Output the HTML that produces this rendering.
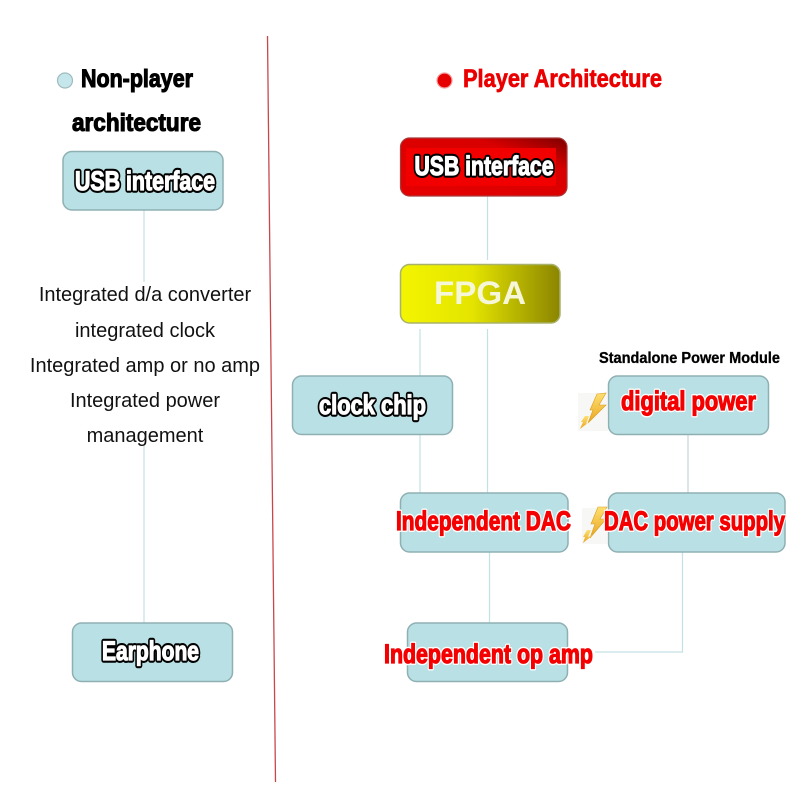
<!DOCTYPE html>
<html>
<head>
<meta charset="utf-8">
<style>
html,body{margin:0;padding:0;background:#fff;width:800px;height:800px;overflow:hidden}
svg{display:block}
text{font-family:"Liberation Sans",sans-serif}
.b{fill:#b9e0e4;stroke:#8fb0b3;stroke-width:1.5}
.c{fill:none;stroke:#c4e1e4;stroke-width:1.2}
.h{font-weight:700;font-size:25px;fill:#000;stroke:#000;stroke-width:1.1px}
.wu{font-weight:700;font-size:27px;fill:#000;stroke:#000;stroke-width:5.4px;stroke-linejoin:round}
.wt{font-weight:700;font-size:27px;fill:#fff;stroke:#fff;stroke-width:1.2px}
.ru{font-weight:700;font-size:27px;fill:#fff;stroke:#fff;stroke-width:4px;stroke-linejoin:round}
.rt{font-weight:700;font-size:27px;fill:#f40000;stroke:#f40000;stroke-width:1.2px}
.t{font-size:20px;fill:#111;text-anchor:middle}
</style>
</head>
<body>
<svg width="800" height="800" viewBox="0 0 800 800" xmlns="http://www.w3.org/2000/svg">
<defs>
<linearGradient id="fp" x1="0" x2="1" y1="0" y2="0">
<stop offset="0" stop-color="#f3f500"/><stop offset=".45" stop-color="#e4e400"/><stop offset="1" stop-color="#8b8500"/>
</linearGradient>
<linearGradient id="rd" x1="0" x2="1" y1="1" y2="0">
<stop offset="0" stop-color="#e60000"/><stop offset=".72" stop-color="#d80000"/><stop offset="1" stop-color="#7d0000"/>
</linearGradient>
<linearGradient id="bolt" x1="0" x2="0" y1="0" y2="1">
<stop offset="0" stop-color="#ffe070"/><stop offset="1" stop-color="#eaa520"/>
</linearGradient>
</defs>

<!-- divider -->
<line x1="267.500" y1="36" x2="275.500" y2="782" stroke="#c8474c" stroke-width="1.300"/>

<!-- connectors -->
<path class="c" d="M144 210V282M144 446V623"/>
<path class="c" d="M487.500 196V260"/>
<path class="c" d="M420 329V376M420 434V493"/>
<path class="c" d="M487.500 329V493"/>
<path class="c" d="M688 434V493" style="stroke:#c9d6d8"/>
<path class="c" d="M489.500 552V623"/>
<path class="c" d="M682.500 552V652H595"/>

<!-- legend dots -->
<circle cx="65" cy="80.500" r="7.500" fill="#c5e6ea" stroke="#9fbcc0" stroke-width="1.200"/>
<circle cx="444.500" cy="80.500" r="7.500" fill="#e60000" stroke="#f2a0a0" stroke-width="1.200"/>

<!-- headings -->
<text class="h" x="81" y="87" textLength="112" lengthAdjust="spacingAndGlyphs">Non-player</text>
<text class="h" x="72" y="131" textLength="129" lengthAdjust="spacingAndGlyphs">architecture</text>
<text x="463" y="87" font-weight="700" font-size="25" fill="#ea0000" stroke="#ea0000" stroke-width=".7" textLength="199" lengthAdjust="spacingAndGlyphs">Player Architecture</text>
<text x="599" y="363" font-weight="700" font-size="15.500" fill="#000" stroke="#000" stroke-width=".3" textLength="181" lengthAdjust="spacingAndGlyphs">Standalone Power Module</text>

<!-- boxes -->
<rect class="b" x="63" y="151.500" width="160" height="58.500" rx="9"/>
<rect x="400.500" y="138" width="166.500" height="58" rx="9" fill="url(#rd)" stroke="#a83a3a" stroke-width="1.200"/>
<rect x="406" y="148" width="150" height="38" fill="#f20000"/>
<rect x="400.500" y="264.500" width="159.500" height="58.500" rx="9" fill="url(#fp)" stroke="#a9b26a" stroke-width="1.500"/>
<rect class="b" x="292.500" y="376" width="160" height="58.500" rx="9"/>
<rect class="b" x="608.500" y="376" width="160" height="58.500" rx="9"/>
<rect class="b" x="400.500" y="493" width="167.500" height="59" rx="9"/>
<rect class="b" x="608.500" y="493" width="176.500" height="59" rx="9"/>
<rect class="b" x="407.500" y="623" width="160" height="58.500" rx="9"/>
<rect class="b" x="72.500" y="623" width="160" height="58.500" rx="9"/>

<!-- bolts -->
<rect x="578" y="393" width="30" height="38" fill="#f1f1ee" opacity=".6"/>
<path d="M597 394L606 393L599 405L606 405L588 423L593 410L590 410Z" fill="url(#bolt)" stroke="#d8a020" stroke-width=".6"/>
<path d="M585 416L589 416L586 424L592 420L580 429L583 422L581 422Z" fill="url(#bolt)"/>
<rect x="582" y="508" width="26" height="36" fill="#f1f1ee" opacity=".6"/>
<path d="M598 507L607 507L600 519L606 519L590 538L595 524L591 524Z" fill="url(#bolt)" stroke="#d8a020" stroke-width=".6"/>
<path d="M587 530L591 530L588 537L593 535L583 543L585 537L583 537Z" fill="url(#bolt)"/>

<!-- box labels: outline layer, then fill layer -->
<text class="wu" x="75" y="190" textLength="140" lengthAdjust="spacingAndGlyphs">USB interface</text>
<text class="wt" x="75" y="190" textLength="140" lengthAdjust="spacingAndGlyphs">USB interface</text>
<text class="wu" x="414.500" y="175" textLength="139" lengthAdjust="spacingAndGlyphs">USB interface</text>
<text class="wt" x="414.500" y="175" textLength="139" lengthAdjust="spacingAndGlyphs">USB interface</text>
<text x="434" y="304" font-weight="700" font-size="32" fill="#f6f6d8" textLength="92" lengthAdjust="spacingAndGlyphs">FPGA</text>
<text class="wu" x="319" y="414" textLength="107" lengthAdjust="spacingAndGlyphs">clock chip</text>
<text class="wt" x="319" y="414" textLength="107" lengthAdjust="spacingAndGlyphs">clock chip</text>
<text class="wu" x="102" y="660" textLength="97" lengthAdjust="spacingAndGlyphs">Earphone</text>
<text class="wt" x="102" y="660" textLength="97" lengthAdjust="spacingAndGlyphs">Earphone</text>
<text class="ru" x="621" y="410" textLength="135" lengthAdjust="spacingAndGlyphs">digital power</text>
<text class="rt" x="621" y="410" textLength="135" lengthAdjust="spacingAndGlyphs">digital power</text>
<text class="ru" x="396" y="530" textLength="175" lengthAdjust="spacingAndGlyphs">Independent DAC</text>
<text class="rt" x="396" y="530" textLength="175" lengthAdjust="spacingAndGlyphs">Independent DAC</text>
<text class="ru" x="604" y="530" textLength="181" lengthAdjust="spacingAndGlyphs">DAC power supply</text>
<text class="rt" x="604" y="530" textLength="181" lengthAdjust="spacingAndGlyphs">DAC power supply</text>
<text class="ru" x="384" y="663" textLength="209" lengthAdjust="spacingAndGlyphs">Independent op amp</text>
<text class="rt" x="384" y="663" textLength="209" lengthAdjust="spacingAndGlyphs">Independent op amp</text>

<!-- center text -->
<text class="t" x="145" y="301">Integrated d/a converter</text>
<text class="t" x="145" y="337">integrated clock</text>
<text class="t" x="145" y="372">Integrated amp or no amp</text>
<text class="t" x="145" y="407">Integrated power</text>
<text class="t" x="145" y="442">management</text>
</svg>
</body>
</html>
